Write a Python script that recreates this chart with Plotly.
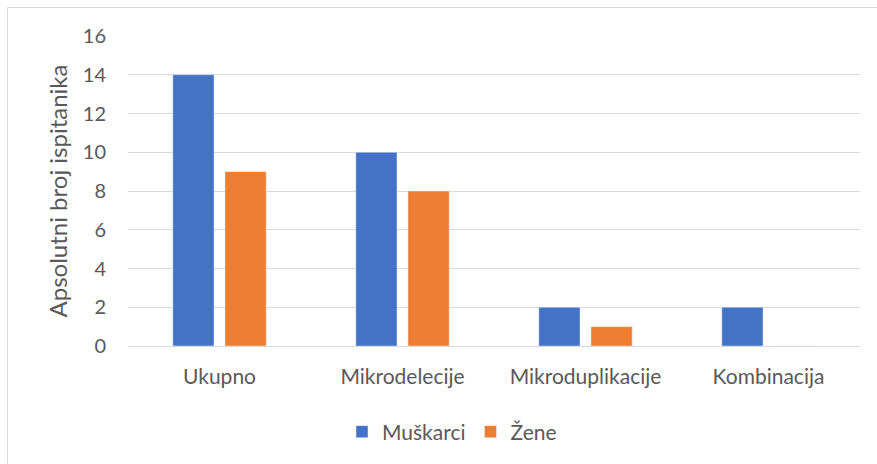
import plotly.graph_objects as go

categories = ["Ukupno", "Mikrodelecije", "Mikroduplikacije", "Kombinacija"]
muskarci = [14, 10, 2, 2]
zene = [9, 8, 1, 0]
series_names = ["Muškarci", "Žene"]
y_ticks = [0, 2, 4, 6, 8, 10, 12, 14, 16]

FONT = "Lato"
TXT = "#595959"
W, H = 877, 464
L, R, T, B = 128, 17, 36, 118
pw, ph = W - L - R, H - T - B

fig = go.Figure()
fig.add_trace(go.Bar(x=categories, y=muskarci, name=series_names[0], marker_color="#4472C4"))
fig.add_trace(go.Bar(x=categories, y=zene, name=series_names[1], marker_color="#ED7D31"))

def px_x(p):
    return (p - L) / pw

def px_y(p):
    return (H - B - p) / ph

fig.update_layout(
    width=W, height=H,
    margin=dict(l=L, r=R, t=T, b=B),
    paper_bgcolor="white", plot_bgcolor="white",
    barmode="group", bargap=0.43, bargroupgap=0.21,
    font=dict(family=FONT, color=TXT, size=20),
    showlegend=True,
    legend=dict(orientation="h", x=px_x(452), y=px_y(432), xanchor="center", yanchor="middle",
                font=dict(size=21, color=TXT), itemwidth=30, traceorder="normal"),
    xaxis=dict(showgrid=False, showline=False, ticks="", tickfont=dict(size=21, color=TXT),
               ticklabelstandoff=16),
    yaxis=dict(range=[0, 16], tickvals=y_ticks, showgrid=True, gridcolor="#d9d9d9", gridwidth=1,
               zeroline=True, zerolinecolor="#d9d9d9", zerolinewidth=1, showline=False, ticks="",
               tickfont=dict(size=20, color=TXT), ticklabelstandoff=21,
               title=dict(text="Apsolutni broj ispitanika", font=dict(size=24, color=TXT), standoff=8)),
    shapes=[dict(type="rect", xref="paper", yref="paper",
                 x0=px_x(7.5), x1=px_x(890), y0=px_y(7.5), y1=px_y(480),
                 line=dict(color="#d9d9d9", width=1), layer="below")],
)

fig.write_html("out.html", config={"displayModeBar": False},
               post_script="document.body.style.margin='0';document.body.style.padding='0';")
